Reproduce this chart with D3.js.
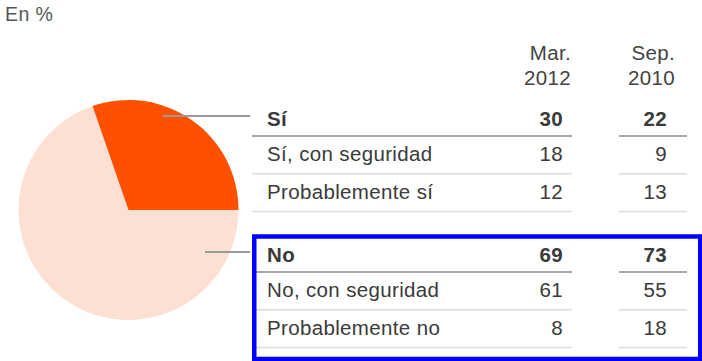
<!DOCTYPE html>
<html>
<head>
<meta charset="utf-8">
<script src="https://cdn.jsdelivr.net/npm/d3@7"></script>
<style>
  html, body { margin: 0; padding: 0; background: #fff; }
  svg text { font-family: "Liberation Sans", Arial, Helvetica, sans-serif; }
</style>
</head>
<body>
<svg id="chart" width="702" height="361"></svg>
<script>
// Survey answers, in percent
const groups = ["Sí", "No"];
const categories = ["Sí", "Sí, con seguridad", "Probablemente sí",
                    "No", "No, con seguridad", "Probablemente no"];
const isGroupRow = [true, false, false, true, false, false];
const mar2012 = [30, 18, 12, 69, 61, 8];
const sep2010 = [22, 9, 13, 73, 55, 18];
const groupTotals = [30, 69];           // Mar. 2012 totals drawn in the pie
const periodLabels = [["Mar.", "2012"], ["Sep.", "2010"]];
const unitLabel = "En %";

const svg = d3.select("#chart");
const textColor = "#3a3a3a";
const fontSize = 20.5;
const tracking = 0.35;
const sliceColor = d3.scaleOrdinal().domain(groups).range(["#ff5000", "#fde0d4"]);

// Unit label
svg.append("text")
  .attr("x", 5).attr("y", 21)
  .attr("font-size", 19.5)
  .attr("letter-spacing", 0.4)
  .attr("fill", "#555")
  .text(unitLabel);

// Pie of the Mar. 2012 totals; the "Sí" share closes at three o'clock
const cx = 128.5, cy = 210, r = 110;
const pie = d3.pie().sort(null).value(d => d.value)
  .startAngle(Math.PI / 2).endAngle(Math.PI / 2 + 2 * Math.PI);
const arc = d3.arc().innerRadius(0).outerRadius(r);
svg.append("g")
  .attr("transform", `translate(${cx},${cy})`)
  .selectAll("path")
  .data(pie([
    { key: groups[1], value: groupTotals[1] },
    { key: groups[0], value: groupTotals[0] }
  ]))
  .join("path")
  .attr("d", arc)
  .attr("fill", d => sliceColor(d.data.key));

// Table layout
const col1 = { x0: 252, x1: 572 };       // label + Mar. column rule
const col2 = { x0: 619, x1: 687 };       // Sep. column rule
const valX = [563, 667];                 // right edge of the values
const headX = [571, 675];                // right edge of the headers

// Row rules: three rows per group, groups stacked below each other
const rowRule = d3.scaleLinear().domain([0, 2]).range([136, 211.5]);
const groupOffset = d3.scaleOrdinal().domain(groups).range([0, 136]);
const ruleY = i => rowRule(i % 3) + groupOffset(groups[Math.floor(i / 3)]);

// Column headers
periodLabels.forEach((lines, c) => {
  lines.forEach((t, k) => {
    svg.append("text")
      .attr("x", headX[c]).attr("y", 60 + k * 25)
      .attr("text-anchor", "end")
      .attr("font-size", fontSize)
      .attr("letter-spacing", tracking)
      .attr("fill", "#444")
      .text(t);
  });
});

// Leader lines from the slices to their group rows
const leaders = [
  { x0: 163, y: 116 },
  { x0: 205, y: 252 }
];
svg.selectAll("line.leader")
  .data(leaders)
  .join("line")
  .attr("class", "leader")
  .attr("x1", d => d.x0).attr("x2", 250)
  .attr("y1", d => d.y).attr("y2", d => d.y)
  .attr("stroke", "#9a9a9a").attr("stroke-width", 2);

categories.forEach((cat, i) => {
  const y = ruleY(i);
  const bold = isGroupRow[i];
  const base = y - (bold ? 10 : 13);
  const g = svg.append("g");
  [col1, col2].forEach(c => {
    g.append("line")
      .attr("x1", c.x0).attr("x2", c.x1)
      .attr("y1", y).attr("y2", y)
      .attr("stroke", bold ? "#a8a8a8" : "#dcdcdc")
      .attr("stroke-width", bold ? 2 : 1.5);
  });
  g.append("text")
    .attr("x", 267).attr("y", base)
    .attr("font-size", fontSize)
    .attr("letter-spacing", tracking)
    .attr("font-weight", bold ? "bold" : "normal")
    .attr("fill", textColor)
    .text(cat);
  [mar2012[i], sep2010[i]].forEach((v, c) => {
    g.append("text")
      .attr("x", valX[c]).attr("y", base)
      .attr("text-anchor", "end")
      .attr("font-size", fontSize)
      .attr("letter-spacing", tracking)
      .attr("font-weight", bold ? "bold" : "normal")
      .attr("fill", textColor)
      .text(v);
  });
});

// Highlight frame around the "No" group
svg.append("rect")
  .attr("x", 254.25).attr("y", 236.5)
  .attr("width", 446).attr("height", 122.5)
  .attr("fill", "none")
  .attr("stroke", "#0000ff")
  .attr("stroke-width", 4.5);
</script>
</body>
</html>
